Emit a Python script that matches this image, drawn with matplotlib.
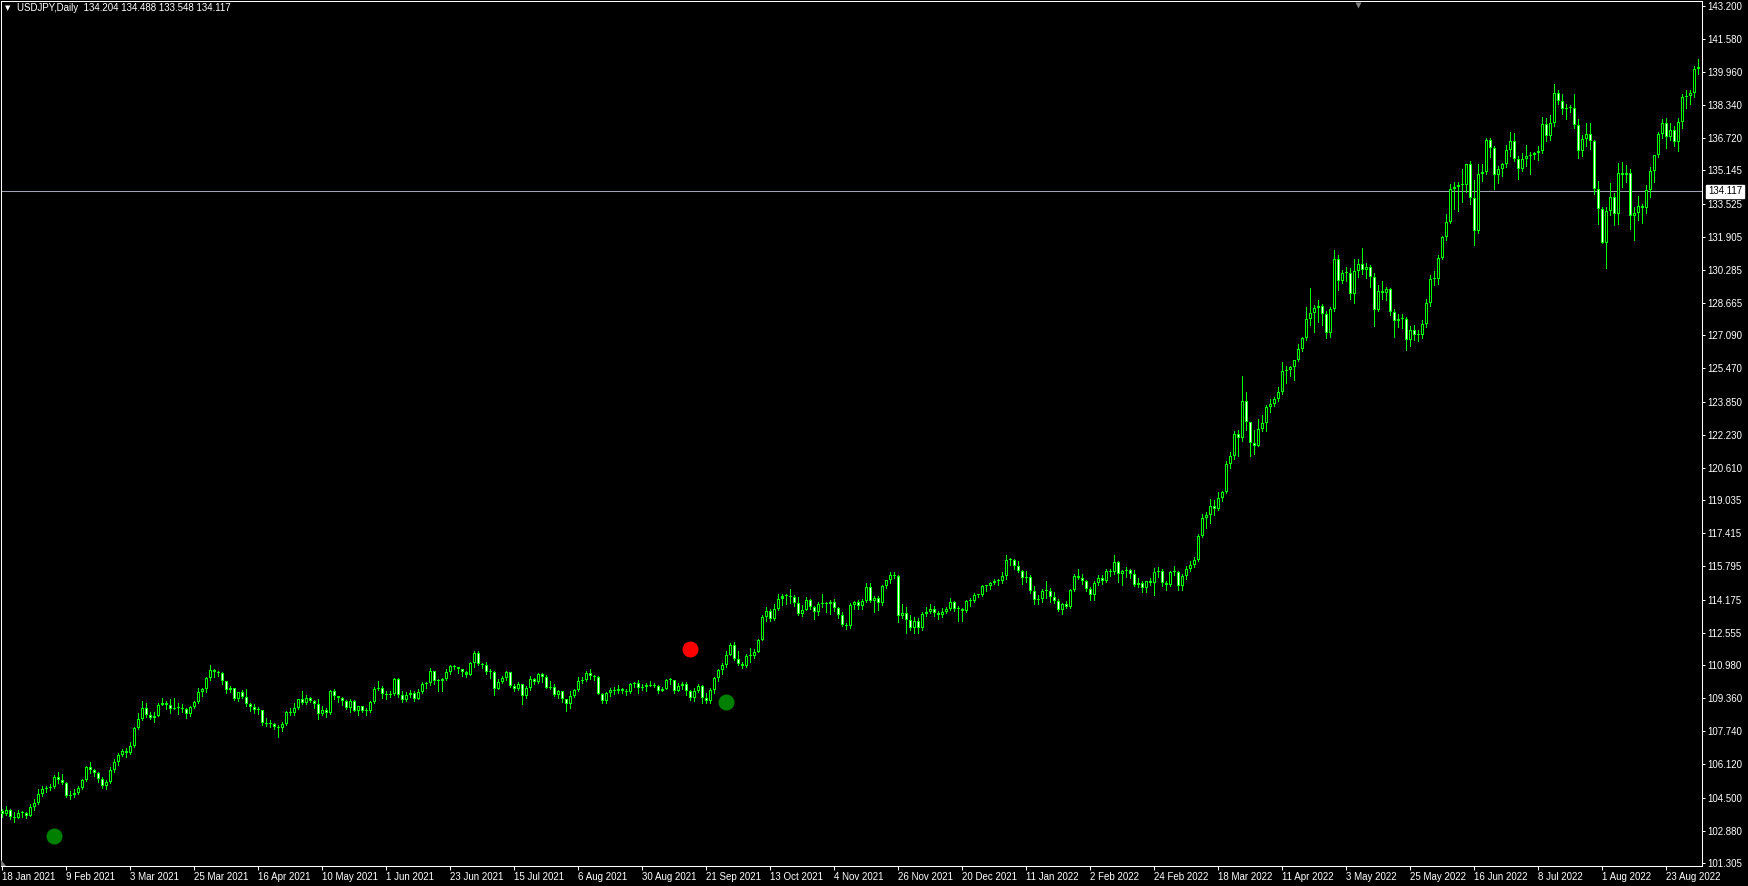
"""
USDJPY daily candlestick chart in MetaTrader style (green on black)
"""

import matplotlib.pyplot as plt
import matplotlib.transforms as mtransforms
from matplotlib.patches import Polygon
import numpy as np

symbol = 'USDJPY,Daily'
header_ohlc = ['134.204', '134.488', '133.548', '134.117']
bid_price = 134.117

# daily bars 18 Jan 2021 .. 2 Sep 2022 (two weeks per line)
opens = [
    103.85, 103.70, 103.88, 103.55, 103.52, 103.77, 103.75, 103.62, 104.06, 104.25,
    104.68, 104.92, 104.98, 105.02, 105.53, 105.38, 105.22, 104.59, 104.62, 104.72,
    104.96, 105.38, 105.98, 105.85, 105.70, 105.43, 105.06, 105.28, 105.87, 106.22,
    106.57, 106.77, 106.70, 107.00, 107.92, 108.36, 108.88, 108.54, 108.40, 108.50,
    109.04, 109.13, 109.02, 108.85, 108.89, 108.88, 108.84, 108.59, 108.94, 109.18,
    109.65, 109.80, 110.33, 110.72, 110.62, 110.60, 110.18, 109.74, 109.84, 109.30,
    109.66, 109.40, 109.05, 108.92, 108.77, 108.77, 108.16, 108.10, 108.08, 107.94,
    107.88, 108.12, 108.70, 108.62, 108.90, 109.31, 109.11, 109.36, 109.21, 109.08,
    108.58, 108.79, 108.62, 109.70, 109.46, 109.36, 109.21, 108.90, 109.23, 108.74,
    108.97, 108.74, 108.75, 109.17, 109.82, 109.84, 109.57, 109.50, 109.55, 110.28,
    109.53, 109.25, 109.49, 109.62, 109.32, 109.68, 110.07, 110.09, 110.68, 110.22,
    110.20, 110.30, 110.64, 110.95, 110.87, 110.76, 110.63, 110.51, 111.08, 111.55,
    111.05, 110.96, 110.62, 110.63, 109.81, 110.14, 110.36, 110.62, 109.96, 109.82,
    110.06, 109.46, 109.85, 110.29, 110.14, 110.55, 110.39, 109.88, 109.92, 109.50,
    109.70, 109.30, 109.05, 109.48, 109.75, 110.22, 110.27, 110.59, 110.42, 110.39,
    109.58, 109.23, 109.59, 109.75, 109.73, 109.79, 109.72, 109.66, 110.04, 110.08,
    109.84, 109.89, 110.02, 109.96, 109.93, 109.71, 109.83, 110.26, 110.25, 109.72,
    109.93, 110.04, 109.69, 109.37, 109.71, 109.93, 109.39, 109.23, 109.78, 110.33,
    110.75, 110.99, 111.49, 111.98, 111.29, 111.05, 110.93, 111.43, 111.42, 111.63,
    112.22, 113.31, 113.60, 113.25, 113.70, 114.21, 114.33, 114.36, 114.29, 114.00,
    113.45, 113.68, 114.15, 113.83, 113.58, 113.95, 114.00, 113.94, 114.06, 113.76,
    113.40, 112.94, 112.89, 113.91, 114.07, 113.86, 114.13, 114.81, 114.12, 114.27,
    114.00, 114.84, 115.11, 115.38, 115.35, 113.38, 113.51, 113.16, 112.77, 113.15,
    112.80, 113.46, 113.55, 113.71, 113.50, 113.42, 113.55, 113.72, 114.05, 113.71,
    113.71, 113.62, 114.09, 114.12, 114.42, 114.38, 114.83, 114.83, 114.98, 115.08,
    115.08, 115.32, 116.12, 116.12, 115.84, 115.56, 115.21, 115.29, 114.59, 114.18,
    114.20, 114.61, 114.61, 114.32, 114.13, 113.67, 113.98, 113.83, 114.64, 115.34,
    115.24, 115.10, 114.68, 114.40, 114.97, 115.23, 115.08, 115.55, 115.53, 116.01,
    115.42, 115.58, 115.62, 115.45, 114.91, 114.99, 114.76, 115.08, 115.00, 115.50,
    115.55, 115.01, 114.89, 115.50, 115.53, 114.83, 115.31, 115.67, 115.86, 116.13,
    117.29, 118.16, 118.31, 118.76, 118.62, 119.16, 119.45, 120.82, 121.19, 122.29,
    122.06, 123.86, 122.85, 121.84, 121.70, 122.53, 122.81, 123.60, 123.75, 123.99,
    124.31, 125.36, 125.38, 125.54, 125.88, 126.43, 126.97, 127.90, 128.18, 128.41,
    128.50, 128.12, 127.21, 128.39, 130.82, 129.73, 130.13, 130.15, 129.10, 130.22,
    130.57, 130.30, 130.43, 129.95, 128.34, 129.24, 129.17, 129.35, 128.22, 127.80,
    127.88, 127.87, 126.86, 127.33, 127.11, 127.11, 127.62, 128.69, 129.86, 129.85,
    130.86, 131.89, 132.64, 134.24, 134.34, 134.41, 134.43, 135.44, 133.80, 132.19,
    134.98, 135.07, 136.63, 136.23, 134.94, 135.20, 135.45, 136.13, 136.59, 135.72,
    135.21, 135.71, 135.87, 135.92, 135.99, 136.10, 137.43, 136.85, 137.44, 138.93,
    138.56, 138.15, 138.18, 138.21, 137.38, 136.10, 136.66, 136.95, 136.56, 134.25,
    133.27, 131.62, 133.17, 133.86, 133.00, 135.02, 134.93, 135.01, 132.90, 133.06,
    133.43, 133.31, 134.20, 135.11, 135.89, 136.92, 137.48, 136.76, 137.14, 136.54,
    137.50, 138.72, 138.77, 138.95, 140.10,
]
highs = [
    103.95, 104.10, 103.95, 103.80, 103.90, 103.86, 103.80, 104.18, 104.43, 104.94,
    105.05, 105.06, 105.17, 105.60, 105.77, 105.65, 105.24, 104.80, 104.90, 105.06,
    105.42, 106.03, 106.22, 105.88, 105.74, 105.52, 105.37, 105.98, 106.40, 106.69,
    106.88, 106.92, 107.20, 107.96, 108.64, 109.23, 109.10, 108.69, 108.66, 109.14,
    109.36, 109.20, 109.33, 109.36, 109.10, 109.05, 108.86, 109.00, 109.24, 109.85,
    109.86, 110.37, 110.97, 110.78, 110.69, 110.65, 110.22, 109.96, 109.85, 109.68,
    109.77, 109.79, 109.12, 109.08, 108.93, 108.78, 108.38, 108.30, 108.16, 108.04,
    108.21, 108.72, 108.90, 109.10, 109.33, 109.70, 109.49, 109.44, 109.25, 109.31,
    108.97, 108.90, 109.76, 109.80, 109.48, 109.40, 109.28, 109.32, 109.28, 109.00,
    108.98, 108.86, 109.20, 109.90, 110.20, 109.94, 109.72, 109.70, 110.33, 110.33,
    109.70, 109.65, 109.74, 109.70, 109.80, 110.14, 110.16, 110.82, 110.71, 110.30,
    110.36, 110.78, 111.00, 111.00, 110.90, 110.80, 110.70, 111.11, 111.66, 111.66,
    111.10, 111.13, 110.77, 110.67, 110.29, 110.44, 110.70, 110.64, 110.04, 110.15,
    110.07, 109.94, 110.42, 110.35, 110.58, 110.59, 110.49, 110.21, 110.04, 109.76,
    109.72, 109.31, 109.69, 109.81, 110.37, 110.39, 110.68, 110.80, 110.49, 110.42,
    109.61, 109.68, 109.84, 109.89, 109.98, 109.88, 109.79, 110.11, 110.13, 110.26,
    110.07, 110.12, 110.19, 110.10, 110.02, 109.89, 110.29, 110.33, 110.27, 110.09,
    110.15, 110.16, 109.77, 109.85, 110.06, 109.98, 109.61, 109.84, 110.38, 110.79,
    111.08, 111.68, 112.07, 112.08, 111.65, 111.14, 111.53, 111.79, 111.78, 112.25,
    113.41, 113.79, 113.72, 113.96, 114.46, 114.45, 114.45, 114.70, 114.40, 114.30,
    113.90, 114.31, 114.22, 113.88, 114.04, 114.44, 114.08, 114.14, 114.19, 113.83,
    113.55, 113.02, 114.00, 114.11, 114.16, 114.20, 114.97, 114.97, 114.37, 114.35,
    114.88, 115.15, 115.52, 115.50, 115.38, 113.94, 113.80, 113.44, 113.33, 113.28,
    113.55, 113.81, 113.95, 113.85, 113.60, 113.75, 113.79, 114.26, 114.09, 113.85,
    113.75, 114.16, 114.23, 114.52, 114.47, 114.90, 114.90, 115.04, 115.16, 115.20,
    115.52, 116.35, 116.21, 116.14, 116.04, 115.62, 115.56, 115.36, 114.82, 114.38,
    114.70, 115.06, 114.74, 114.54, 114.20, 114.00, 114.10, 114.70, 115.45, 115.68,
    115.42, 115.14, 114.80, 115.08, 115.40, 115.40, 115.69, 115.66, 116.34, 116.05,
    115.60, 115.78, 115.68, 115.60, 115.24, 115.10, 115.08, 115.24, 115.71, 115.77,
    115.65, 115.10, 115.56, 115.80, 115.55, 115.45, 115.80, 116.05, 116.24, 117.36,
    118.37, 118.45, 119.11, 119.03, 119.41, 119.48, 120.95, 121.41, 122.43, 122.44,
    125.10, 124.31, 122.86, 122.48, 122.99, 123.18, 123.68, 124.00, 124.07, 124.55,
    125.77, 125.59, 125.60, 125.90, 126.68, 127.00, 128.47, 129.41, 128.58, 128.83,
    128.62, 128.30, 128.49, 131.25, 131.02, 130.28, 130.41, 130.36, 130.83, 130.80,
    131.35, 130.64, 130.52, 130.13, 129.54, 129.73, 129.47, 129.42, 128.36, 128.14,
    128.14, 128.00, 127.52, 127.58, 127.35, 127.85, 128.88, 130.03, 130.24, 131.00,
    131.94, 133.01, 134.48, 134.56, 134.56, 135.20, 135.45, 135.59, 134.68, 135.44,
    135.44, 136.71, 136.71, 136.34, 135.38, 135.52, 136.38, 137.00, 136.98, 135.83,
    135.99, 136.38, 136.03, 136.05, 136.33, 137.75, 137.70, 137.87, 139.39, 139.06,
    138.88, 138.40, 138.36, 138.87, 137.68, 136.89, 137.48, 137.46, 136.63, 134.62,
    133.38, 133.35, 134.55, 134.06, 135.50, 135.58, 135.39, 135.21, 133.36, 133.88,
    133.50, 134.42, 135.30, 135.90, 137.02, 137.65, 137.70, 137.46, 137.30, 137.72,
    138.88, 139.09, 139.08, 140.23, 140.60,
]
lows = [
    103.55, 103.65, 103.45, 103.33, 103.48, 103.55, 103.50, 103.58, 103.88, 104.20,
    104.57, 104.78, 104.85, 104.98, 105.21, 105.15, 104.52, 104.42, 104.55, 104.68,
    104.93, 105.30, 105.70, 105.56, 105.25, 104.96, 104.93, 105.20, 105.77, 106.10,
    106.52, 106.46, 106.65, 106.96, 107.86, 108.31, 108.42, 108.34, 108.18, 108.49,
    109.02, 108.83, 108.61, 108.82, 108.60, 108.68, 108.41, 108.50, 108.86, 109.12,
    109.45, 109.68, 110.25, 110.41, 110.45, 110.06, 109.62, 109.65, 109.25, 109.24,
    109.35, 108.96, 108.73, 108.61, 108.60, 108.05, 107.98, 107.96, 107.84, 107.48,
    107.77, 108.03, 108.54, 108.53, 108.84, 109.07, 109.06, 109.18, 108.90, 108.34,
    108.52, 108.45, 108.58, 109.30, 109.16, 109.03, 108.82, 108.70, 108.73, 108.56,
    108.69, 108.56, 108.67, 109.13, 109.77, 109.35, 109.33, 109.40, 109.53, 109.40,
    109.19, 109.20, 109.42, 109.20, 109.30, 109.62, 109.88, 109.98, 110.04, 109.70,
    109.72, 110.25, 110.55, 110.80, 110.60, 110.42, 110.40, 110.48, 110.90, 110.97,
    110.85, 110.53, 110.36, 109.53, 109.80, 110.08, 110.27, 109.90, 109.73, 109.74,
    109.06, 109.35, 109.78, 110.05, 110.10, 110.15, 109.84, 109.82, 109.45, 109.36,
    109.18, 108.72, 108.88, 109.40, 109.70, 110.12, 110.21, 110.31, 110.26, 109.54,
    109.11, 109.14, 109.46, 109.56, 109.60, 109.63, 109.51, 109.59, 109.89, 109.62,
    109.77, 109.69, 109.93, 109.89, 109.59, 109.70, 109.79, 110.05, 109.60, 109.70,
    109.83, 109.53, 109.28, 109.22, 109.66, 109.11, 109.12, 109.11, 109.62, 110.21,
    110.54, 110.90, 111.46, 111.22, 110.99, 110.82, 110.90, 111.11, 111.33, 111.60,
    112.18, 113.15, 113.14, 113.20, 113.65, 113.91, 113.95, 114.00, 113.87, 113.41,
    113.36, 113.65, 113.72, 113.25, 113.40, 113.83, 113.59, 113.47, 113.60, 113.29,
    112.90, 112.73, 112.80, 113.74, 113.72, 113.74, 114.06, 114.05, 113.59, 113.66,
    113.90, 114.72, 114.98, 115.23, 113.06, 113.27, 112.56, 112.70, 112.54, 112.55,
    112.71, 113.38, 113.51, 113.37, 113.25, 113.32, 113.51, 113.67, 113.64, 113.14,
    113.14, 113.59, 113.86, 114.06, 114.28, 114.33, 114.61, 114.70, 114.94, 114.87,
    115.00, 115.18, 115.85, 115.69, 115.53, 114.95, 115.05, 114.50, 113.95, 113.94,
    114.05, 114.27, 114.08, 114.00, 113.61, 113.47, 113.77, 113.76, 114.58, 115.18,
    114.92, 114.60, 114.14, 114.17, 114.91, 114.92, 115.05, 115.31, 115.44, 115.02,
    114.89, 115.30, 115.25, 114.84, 114.80, 114.55, 114.53, 114.90, 114.41, 115.27,
    114.84, 114.65, 114.86, 115.40, 114.66, 114.65, 115.18, 115.57, 115.78, 116.06,
    117.22, 117.69, 117.90, 118.32, 118.57, 118.98, 119.38, 120.59, 121.05, 121.20,
    121.93, 122.44, 121.18, 121.28, 121.69, 122.40, 122.39, 123.34, 123.63, 123.90,
    124.21, 124.75, 125.08, 124.90, 125.83, 126.31, 126.87, 127.61, 127.23, 127.74,
    127.59, 126.95, 127.03, 128.30, 129.31, 129.66, 129.76, 128.88, 128.66, 129.95,
    130.09, 129.90, 129.45, 127.52, 128.26, 128.88, 128.82, 128.09, 127.03, 127.49,
    127.46, 126.36, 126.56, 126.86, 126.81, 126.94, 127.49, 128.53, 129.55, 129.61,
    130.84, 131.76, 132.58, 133.26, 133.18, 133.58, 134.08, 133.50, 131.50, 132.08,
    134.63, 134.96, 135.78, 134.26, 134.52, 134.88, 135.33, 135.83, 135.59, 134.74,
    135.12, 135.35, 134.98, 135.70, 135.67, 136.00, 136.60, 136.64, 137.32, 138.40,
    137.88, 137.68, 137.98, 137.24, 135.75, 135.86, 136.34, 136.18, 133.97, 132.52,
    131.60, 130.40, 132.95, 132.48, 132.53, 134.36, 134.56, 132.30, 131.73, 132.71,
    132.57, 133.07, 133.84, 134.60, 135.78, 136.72, 136.23, 136.63, 136.36, 136.10,
    137.21, 138.22, 138.37, 138.73, 139.85,
]
closes = [
    103.70, 103.88, 103.55, 103.52, 103.77, 103.75, 103.62, 104.06, 104.25, 104.68,
    104.92, 104.98, 105.02, 105.53, 105.38, 105.22, 104.59, 104.62, 104.72, 104.96,
    105.38, 105.98, 105.85, 105.70, 105.43, 105.06, 105.28, 105.87, 106.22, 106.57,
    106.77, 106.70, 107.00, 107.92, 108.36, 108.88, 108.54, 108.40, 108.50, 109.04,
    109.13, 109.02, 108.85, 108.89, 108.88, 108.84, 108.59, 108.94, 109.18, 109.65,
    109.80, 110.33, 110.72, 110.62, 110.60, 110.18, 109.74, 109.84, 109.30, 109.66,
    109.40, 109.05, 108.92, 108.77, 108.77, 108.16, 108.10, 108.08, 107.94, 107.88,
    108.12, 108.70, 108.62, 108.90, 109.31, 109.11, 109.36, 109.21, 109.08, 108.58,
    108.79, 108.62, 109.70, 109.46, 109.36, 109.21, 108.90, 109.23, 108.74, 108.97,
    108.74, 108.75, 109.17, 109.82, 109.84, 109.57, 109.50, 109.55, 110.28, 109.53,
    109.25, 109.49, 109.62, 109.32, 109.68, 110.07, 110.09, 110.68, 110.22, 110.20,
    110.30, 110.64, 110.95, 110.87, 110.76, 110.63, 110.51, 111.08, 111.55, 111.05,
    110.96, 110.62, 110.63, 109.81, 110.14, 110.36, 110.62, 109.96, 109.82, 110.06,
    109.46, 109.85, 110.29, 110.14, 110.55, 110.39, 109.88, 109.92, 109.50, 109.70,
    109.30, 109.05, 109.48, 109.75, 110.22, 110.27, 110.59, 110.42, 110.39, 109.58,
    109.23, 109.59, 109.75, 109.73, 109.79, 109.72, 109.66, 110.04, 110.08, 109.84,
    109.89, 110.02, 109.96, 109.93, 109.71, 109.83, 110.26, 110.25, 109.72, 109.93,
    110.04, 109.69, 109.37, 109.71, 109.93, 109.39, 109.23, 109.78, 110.33, 110.75,
    110.99, 111.49, 111.98, 111.29, 111.05, 110.93, 111.43, 111.42, 111.63, 112.22,
    113.31, 113.60, 113.25, 113.70, 114.21, 114.33, 114.36, 114.29, 114.00, 113.45,
    113.68, 114.15, 113.83, 113.58, 113.95, 114.00, 113.94, 114.06, 113.76, 113.40,
    112.94, 112.89, 113.91, 114.07, 113.86, 114.13, 114.81, 114.12, 114.27, 114.00,
    114.84, 115.11, 115.38, 115.35, 113.38, 113.51, 113.16, 112.77, 113.15, 112.80,
    113.46, 113.55, 113.71, 113.50, 113.42, 113.55, 113.72, 114.05, 113.71, 113.71,
    113.62, 114.09, 114.12, 114.42, 114.38, 114.83, 114.83, 114.98, 115.08, 115.08,
    115.32, 116.12, 116.12, 115.84, 115.56, 115.21, 115.29, 114.59, 114.18, 114.20,
    114.61, 114.61, 114.32, 114.13, 113.67, 113.98, 113.83, 114.64, 115.34, 115.24,
    115.10, 114.68, 114.40, 114.97, 115.23, 115.08, 115.55, 115.53, 116.01, 115.42,
    115.58, 115.62, 115.45, 114.91, 114.99, 114.76, 115.08, 115.00, 115.50, 115.55,
    115.01, 114.89, 115.50, 115.53, 114.83, 115.31, 115.67, 115.86, 116.13, 117.29,
    118.16, 118.31, 118.76, 118.62, 119.16, 119.45, 120.82, 121.19, 122.29, 122.06,
    123.86, 122.85, 121.84, 121.70, 122.53, 122.81, 123.60, 123.75, 123.99, 124.31,
    125.36, 125.38, 125.54, 125.88, 126.43, 126.97, 127.90, 128.18, 128.41, 128.50,
    128.12, 127.21, 128.39, 130.82, 129.73, 130.13, 130.15, 129.10, 130.22, 130.57,
    130.30, 130.43, 129.95, 128.34, 129.24, 129.17, 129.35, 128.22, 127.80, 127.88,
    127.87, 126.86, 127.33, 127.11, 127.11, 127.62, 128.69, 129.86, 129.85, 130.86,
    131.89, 132.64, 134.24, 134.34, 134.41, 134.43, 135.44, 133.80, 132.19, 134.98,
    135.07, 136.63, 136.23, 134.94, 135.20, 135.45, 136.13, 136.59, 135.72, 135.21,
    135.71, 135.87, 135.92, 135.99, 136.10, 137.43, 136.85, 137.44, 138.93, 138.56,
    138.15, 138.18, 138.21, 137.38, 136.10, 136.66, 136.95, 136.56, 134.25, 133.27,
    131.62, 133.17, 133.86, 133.00, 135.02, 134.93, 135.01, 132.90, 133.06, 133.43,
    133.31, 134.20, 135.11, 135.89, 136.92, 137.48, 136.76, 137.14, 136.54, 137.50,
    138.72, 138.77, 138.95, 140.10, 140.20,
]

# one label every 16 bars
date_labels = [
    '18 Jan 2021', '9 Feb 2021', '3 Mar 2021', '25 Mar 2021', '16 Apr 2021',
    '10 May 2021', '1 Jun 2021', '23 Jun 2021', '15 Jul 2021', '6 Aug 2021',
    '30 Aug 2021', '21 Sep 2021', '13 Oct 2021', '4 Nov 2021', '26 Nov 2021',
    '20 Dec 2021', '11 Jan 2022', '2 Feb 2022', '24 Feb 2022', '18 Mar 2022',
    '11 Apr 2022', '3 May 2022', '25 May 2022', '16 Jun 2022', '8 Jul 2022',
    '1 Aug 2022', '23 Aug 2022',
]
price_ticks = [
    143.200, 141.580, 139.960, 138.340, 136.720, 135.145, 133.525, 131.905,
    130.285, 128.665, 127.090, 125.470, 123.850, 122.230, 120.610, 119.035,
    117.415, 115.795, 114.175, 112.555, 110.980, 109.360, 107.740, 106.120,
    104.500, 102.880, 101.305,
]

# indicator dots: (bar index, price)
buy_dots = [(13, 102.63), (181, 109.18)]
sell_dots = [(172, 111.75)]

LIME = '#00ff00'
FONT = 'Liberation Sans'
FS = 7.0
W, H = 1749, 886
YMIN, YMAX = 101.158, 143.425
PX = (YMAX - YMIN) / 865   # one pixel in price units


def plot_chart():
    o = np.array(opens)
    h = np.array(highs)
    l = np.array(lows)
    c = np.array(closes)
    h = np.maximum(h, np.maximum(o, c))
    l = np.minimum(l, np.minimum(o, c))
    x = np.arange(len(c))
    up = c >= o
    lo = np.minimum(o, c)
    span = np.maximum(np.abs(c - o), PX)

    fig = plt.figure(figsize=(W / 100, H / 100), dpi=100, facecolor='black')
    ax = fig.add_axes([1 / W, 20 / H, 1701 / W, 865 / H])
    ax.set_facecolor('black')

    # wicks, green body frame, then black/white inside
    ax.vlines(x, l, h, color=LIME, lw=0.72, antialiased=False, zorder=2)
    ax.bar(x, span, bottom=lo, width=0.75, color=LIME, lw=0, antialiased=False, zorder=3)
    big = span > 2.5 * PX
    ax.bar(x[big & up], span[big & up] - 2 * PX, bottom=lo[big & up] + PX, width=0.25,
           color='black', lw=0, antialiased=False, zorder=4)
    ax.bar(x[big & ~up], span[big & ~up] - 2 * PX, bottom=lo[big & ~up] + PX, width=0.25,
           color='white', lw=0, antialiased=False, zorder=4)

    # signal dots
    for i, p in buy_dots:
        ax.plot(i, p, 'o', color='#008000', ms=11.5, mec='none', zorder=5)
    for i, p in sell_dots:
        ax.plot(i, p, 'o', color='#ff0000', ms=11.5, mec='none', zorder=5)

    # bid line + price box
    ax.axhline(bid_price, color='#a0a4b4', lw=0.75, zorder=1)
    trans = mtransforms.blended_transform_factory(ax.transAxes, ax.transData)
    ax.text(1.0035, bid_price, f'{bid_price:.3f}', transform=trans, ha='left', va='center',
            color='black', fontsize=FS, family=FONT, zorder=6, clip_on=False,
            bbox=dict(boxstyle='square,pad=0.15', fc='white', ec='white'))

    ax.set_xlim(-0.375, 424.875)
    ax.set_ylim(YMIN, YMAX)

    ax.set_xticks(range(0, 16 * len(date_labels), 16))
    ax.set_xticklabels(date_labels, family=FONT, fontsize=FS, color='white')
    for lbl in ax.get_xticklabels():
        lbl.set_ha('left')
    ax.set_yticks(price_ticks)
    ax.set_yticklabels([f'{v:.3f}' for v in price_ticks], family=FONT, fontsize=FS, color='white')
    ax.yaxis.tick_right()
    ax.tick_params(axis='x', direction='out', length=3, width=0.72, colors='white', pad=1.5)
    ax.tick_params(axis='y', direction='out', length=2, width=0.72, colors='white', pad=1.5)

    for s in ax.spines.values():
        s.set_color('white')
        s.set_linewidth(0.75)

    # header
    fig.text(5 / W, 1 - 8 / H, '\u25bc', color='white', fontsize=5, va='center', family='DejaVu Sans')
    fig.text(17 / W, 1 - 8 / H, f'{symbol}  ' + ' '.join(header_ohlc), color='white',
             fontsize=FS, va='center', family=FONT)

    # chart shift markers
    ax.plot((1358 - 1) / 1701, 1 - 4 / 865, 'v', color='#808080', ms=5, mec='none',
            transform=ax.transAxes, clip_on=False, zorder=5)
    fig.patches.append(Polygon([(1, 20), (1, 26), (6, 20)], closed=True, fc='#808080',
                               ec='none', transform=None))

    fig.savefig('out.png', dpi=100, facecolor='black')


if __name__ == '__main__':
    plot_chart()
